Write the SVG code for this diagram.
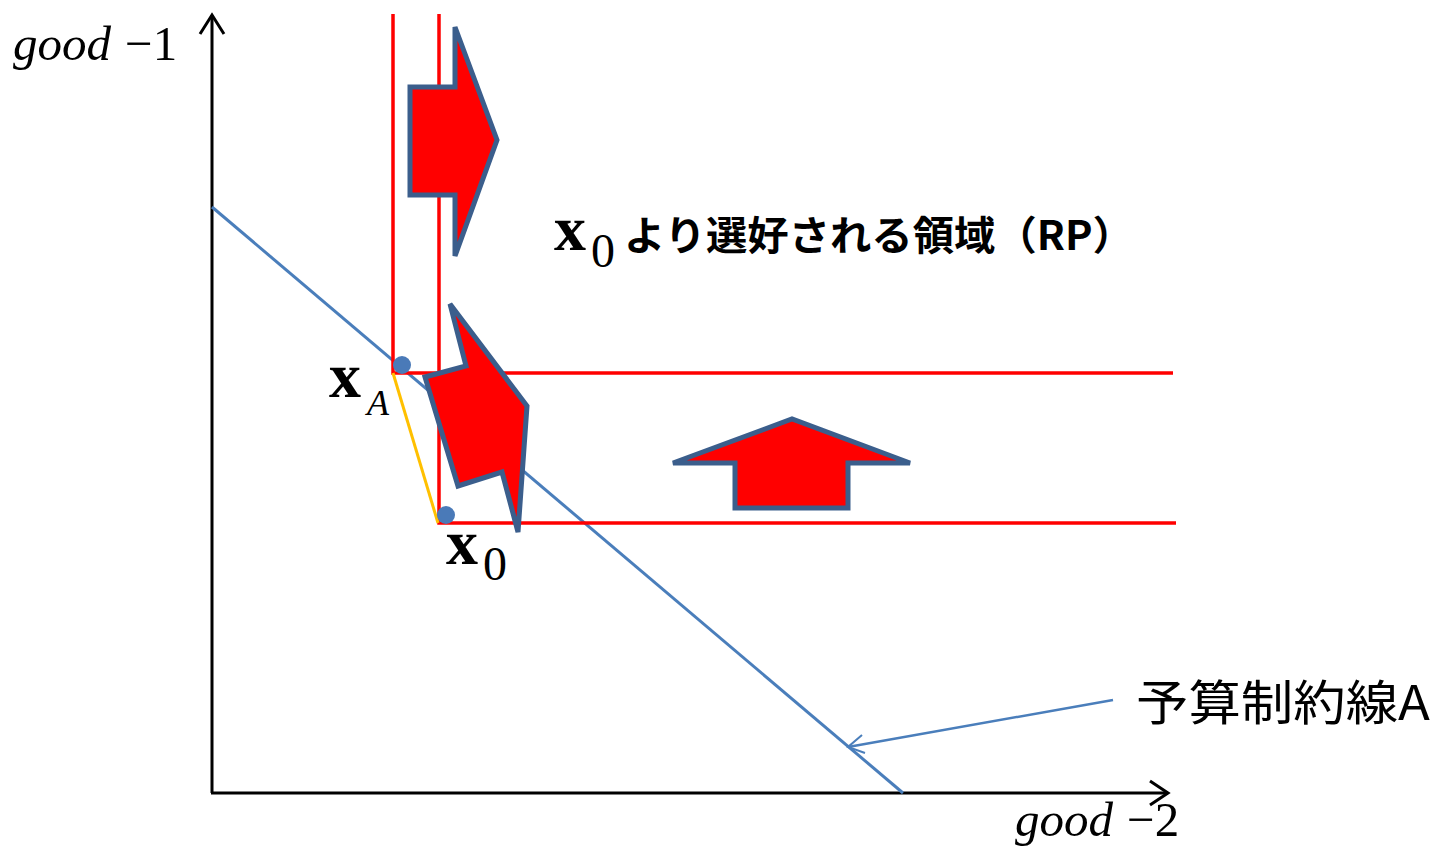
<svg xmlns="http://www.w3.org/2000/svg" width="1436" height="848" viewBox="0 0 1436 848">
<style>
.ax{stroke:#000;stroke-width:3;fill:none}
.red{stroke:#FF0000;stroke-width:3.5;fill:none}
.arrow{fill:#FF0000;stroke:#3B5E8C;stroke-width:5;stroke-linejoin:miter}
.dot{fill:#4A7AB8}
.serif{font-family:"Liberation Serif","Times New Roman",serif;fill:#000}
.jp{font-family:"Noto Sans CJK JP","Noto Sans",sans-serif;fill:#000}
</style>
<rect width="1436" height="848" fill="#fff"/>
<g id="axes">
<line class="ax" x1="212" y1="793" x2="212" y2="15"/>
<polyline class="ax" points="200,34 212,15 224,34"/>
<line class="ax" x1="211" y1="793" x2="1168" y2="793"/>
<polyline class="ax" points="1150,781 1168,793 1150,805"/>
</g>
<g id="budget-line">
<line x1="212" y1="207" x2="903" y2="793" stroke="#4A7EBB" stroke-width="3"/>
</g>
<g id="rp-region">
<polyline class="red" points="393,14 393,373 1173,373"/>
<polyline class="red" points="439,14 439,523 1176,523"/>
</g>
<g id="connectors">
<line x1="393" y1="373" x2="438" y2="523" stroke="#FFC000" stroke-width="3"/>
<line x1="1113" y1="700" x2="848" y2="747" stroke="#4A7EBB" stroke-width="2.5"/>
<polyline points="862,735 848,747 865,753" fill="none" stroke="#4A7EBB" stroke-width="2"/>
</g>
<g id="arrow-right">
<polygon class="arrow" points="410,87 455,87 455,27 497,140 455,256 455,195 410,195"/>
</g>
<g id="arrow-diag">
<polygon class="arrow" points="425,377 466,366 450,304 527,406 518,532 502,472 458,486"/>
</g>
<g id="arrow-up">
<polygon class="arrow" points="673,463 792,419 910,463 848,463 848,508 735,508 735,463"/>
</g>
<g id="point-xA">
<circle class="dot" cx="402" cy="365" r="9"/>
<text class="serif" x="329" y="397" font-size="64" font-weight="bold">x</text>
<text class="serif" x="367" y="415" font-size="36" font-style="italic">A</text>
</g>
<g id="point-x0">
<circle class="dot" cx="446" cy="515" r="9"/>
<text class="serif" x="446" y="564" font-size="64" font-weight="bold">x</text>
<text class="serif" x="483" y="580" font-size="48">0</text>
</g>
<g id="label-rp">
<text class="serif" x="554" y="250" font-size="64" font-weight="bold">x</text>
<text class="serif" x="591" y="267" font-size="48">0</text>
<text class="jp" x="624" y="250" font-size="40" font-weight="bold" textLength="510" lengthAdjust="spacingAndGlyphs">より選好される領域（RP）</text>
</g>
<g id="label-budget">
<text class="jp" x="1136" y="720" font-size="48" textLength="294" lengthAdjust="spacingAndGlyphs">予算制約線A</text>
</g>
<g id="label-good1">
<text class="serif" x="13" y="60" font-size="49"><tspan font-style="italic">good</tspan><tspan dx="14">−1</tspan></text>
</g>
<g id="label-good2">
<text class="serif" x="1015" y="836" font-size="49"><tspan font-style="italic">good</tspan><tspan dx="14">−2</tspan></text>
</g>
</svg>
